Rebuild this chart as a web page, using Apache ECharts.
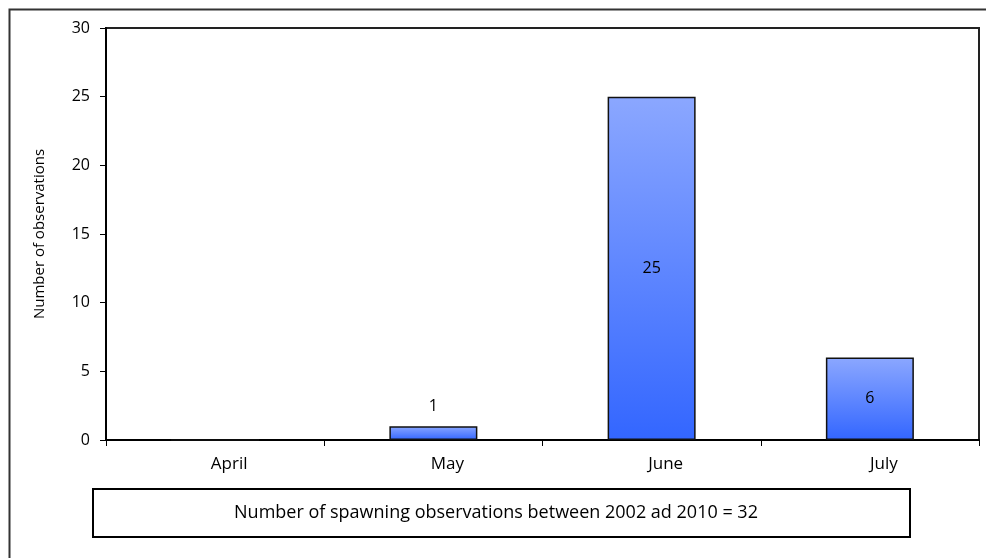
<!DOCTYPE html>
<html>
<head>
<meta charset="utf-8">
<script src="https://cdn.jsdelivr.net/npm/echarts@6/dist/echarts.min.js"></script>
<style>
  html, body { margin: 0; padding: 0; background: #fff; }
  #chart { width: 986px; height: 558px; }
</style>
</head>
<body>
<div id="chart"></div>
<script>
// Spawning observations per month, 2002–2010
const months = ['April', 'May', 'June', 'July'];
const observations = [0, 1, 25, 6];
const yTicks = [0, 5, 10, 15, 20, 25, 30];
const yTitle = 'Number of observations';
const noteText = 'Number of spawning observations between 2002 ad 2010 = 32';

const FONT = 'Open Sans';

const barFill = new echarts.graphic.LinearGradient(0, 0, 0, 1, [
  { offset: 0, color: '#8ba7ff' },
  { offset: 1, color: '#3366ff' }
]);

const barData = observations.map((v, i) => ({
  value: v,
  label: {
    show: v > 0,
    position: v < 3 ? 'top' : 'inside',
    distance: 12
  }
}));

const chart = echarts.init(document.getElementById('chart'), null, { renderer: 'canvas' });

chart.setOption({
  animation: false,
  backgroundColor: '#fff',
  textStyle: { fontFamily: FONT },
  grid: {
    left: 106, top: 28, right: 7, bottom: 118,
    show: true, borderColor: '#222', borderWidth: 2, backgroundColor: '#fff'
  },
  xAxis: {
    type: 'category',
    data: months,
    axisLine: { show: true, lineStyle: { color: '#000', width: 2 } },
    axisTick: { show: true, length: 6, lineStyle: { color: '#000', width: 1 } },
    axisLabel: { color: '#000', fontSize: 17, fontFamily: FONT, margin: 16, padding: [0, 0, 0, 28] }
  },
  yAxis: {
    type: 'value',
    min: yTicks[0],
    max: yTicks[yTicks.length - 1],
    interval: 5,
    name: yTitle,
    nameLocation: 'middle',
    nameGap: 59,
    nameTextStyle: { color: '#000', fontSize: 15, fontFamily: FONT },
    splitLine: { show: false },
    axisLine: { show: true, lineStyle: { color: '#000', width: 2 } },
    axisTick: { show: true, length: 6, lineStyle: { color: '#000', width: 1 } },
    axisLabel: { color: '#000', fontSize: 16, fontFamily: FONT, margin: 16 }
  },
  series: [{
    type: 'bar',
    data: barData,
    barWidth: 88,
    itemStyle: { color: barFill, borderColor: '#111', borderWidth: 1.5 },
    label: { color: '#000', fontSize: 16, fontFamily: FONT }
  }],
  graphic: [
    {
      type: 'polyline',
      shape: { points: [[9.5, 558], [9.5, 9.5], [986, 9.5]] },
      style: { stroke: '#333', lineWidth: 2, fill: null },
      silent: true
    },
    {
      type: 'rect',
      shape: { x: 93, y: 489, width: 817, height: 48 },
      style: { fill: '#fff', stroke: '#000', lineWidth: 2 },
      silent: true
    },
    {
      type: 'text',
      x: 496, y: 513,
      style: {
        text: noteText, fill: '#000', font: '18px "' + FONT + '"',
        align: 'center', verticalAlign: 'middle'
      },
      silent: true
    }
  ]
});
</script>
</body>
</html>
